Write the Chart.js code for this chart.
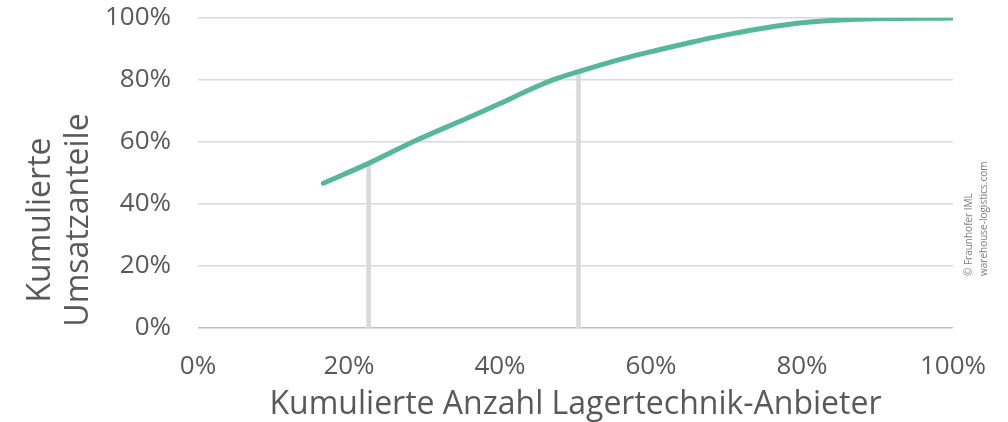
<!DOCTYPE html>
<html>
<head>
<meta charset="utf-8">
<script src="https://cdn.jsdelivr.net/npm/chart.js@4/dist/chart.umd.min.js"></script>
<style>
  html, body { margin: 0; padding: 0; background: #fff; }
  #wrap { width: 1008px; height: 422px; }
</style>
</head>
<body>
<div id="wrap"><canvas id="chart" width="1008" height="422"></canvas></div>
<script>
// cumulative share of suppliers (x) vs cumulative revenue share (y), in %
const anbieterPct = [16.6, 22.6, 28.7, 35.4, 40.0, 44.2, 47.3, 50.4, 56.3, 60.8, 65.2, 69.6, 74.0, 78.4, 82.8, 87.2, 100];
const umsatzPct   = [46.7, 53.1, 60.3, 67.4, 72.4, 77.2, 80.3, 82.7, 86.9, 89.6, 92.1, 94.4, 96.4, 98.0, 99.0, 99.6, 100];

// the two grey marker lines
const markerX = [22.6, 50.4];
const markerY = [53.1, 82.7];

const xTitle = "Kumulierte Anzahl Lagertechnik-Anbieter";
const yTitle = ["Kumulierte", "Umsatzanteile"];
const credit = ["© Fraunhofer IML", "warehouse-logistics.com"];

const textColor = "#595959";
const fontFamily = "'Open Sans', sans-serif";

const curve = anbieterPct.map((x, i) => ({ x: x, y: umsatzPct[i] }));

const markerSets = markerX.map((x, i) => ({
  data: [{ x: x, y: 0 }, { x: x, y: markerY[i] }],
  borderColor: "#d9d9d9",
  borderWidth: 4.5,
  pointRadius: 0,
  order: 2,
}));

// rotated texts: y axis title and the credit line on the right
const sideText = {
  id: "sideText",
  afterDraw(chart) {
    const ctx = chart.ctx;
    ctx.save();
    ctx.fillStyle = textColor;
    ctx.font = "32px " + fontFamily;
    ctx.textAlign = "center";
    ctx.textBaseline = "alphabetic";
    ctx.translate(0, 220);
    ctx.rotate(-Math.PI / 2);
    ctx.fillText(yTitle[0], 0, 50);
    ctx.fillText(yTitle[1], 0, 88);
    ctx.restore();

    ctx.save();
    ctx.fillStyle = "#7f7f7f";
    ctx.font = "10px " + fontFamily;
    ctx.textBaseline = "middle";
    ctx.textAlign = "left";
    ctx.translate(969, 276);
    ctx.rotate(-Math.PI / 2);
    ctx.fillText(credit[0], 0, 0);
    ctx.fillText(credit[1], 0, 15);
    ctx.restore();
  },
};

new Chart(document.getElementById("chart"), {
  type: "line",
  data: {
    datasets: [
      {
        data: curve,
        borderColor: "#55b89a",
        borderWidth: 5,
        pointRadius: 0,
        cubicInterpolationMode: "monotone",
        borderCapStyle: "round",
        order: 1,
      },
      ...markerSets,
    ],
  },
  options: {
    responsive: false,
    animation: false,
    layout: { autoPadding: false, padding: { left: 0, right: 55, top: 18, bottom: 0 } },
    plugins: {
      legend: { display: false },
      tooltip: { enabled: false },
    },
    scales: {
      x: {
        type: "linear",
        min: 0,
        max: 100,
        afterFit(scale) {
          scale.height = 94;
          scale.paddingLeft = 0;
          scale.paddingRight = 0;
        },
        grid: { display: false },
        border: { display: false },
        ticks: {
          stepSize: 20,
          padding: 15,
          color: textColor,
          font: { family: fontFamily, size: 26 },
          callback: (v) => v + "%",
        },
        title: {
          display: true,
          text: xTitle,
          color: textColor,
          font: { family: fontFamily, size: 32 },
          padding: { top: 0, bottom: -2 },
        },
      },
      y: {
        min: 0,
        max: 100,
        afterFit(scale) {
          scale.width = 198;
          scale.paddingTop = 0;
          scale.paddingBottom = 0;
        },
        border: { display: false },
        grid: {
          drawTicks: false,
          lineWidth: 1.5,
          color: (c) => (c.tick && c.tick.value === 0 ? "#bfbfbf" : "#d9d9d9"),
        },
        ticks: {
          stepSize: 20,
          padding: 27,
          color: textColor,
          font: { family: fontFamily, size: 26 },
          callback: (v) => v + "%",
        },
      },
    },
  },
  plugins: [sideText],
});
</script>
</body>
</html>
